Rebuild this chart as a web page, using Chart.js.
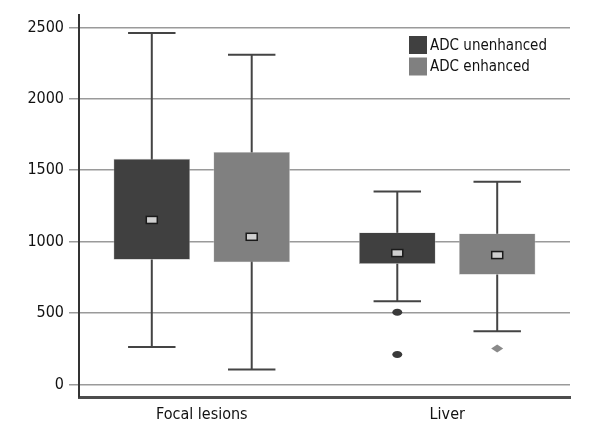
<!DOCTYPE html>
<html>
<head>
<meta charset="utf-8">
<script src="https://cdn.jsdelivr.net/npm/chart.js@4/dist/chart.umd.min.js"></script>
<style>
  body { margin: 0; background: #fff; }
  #wrap { width: 600px; height: 440px; position: relative; }
</style>
</head>
<body>
<div id="wrap"><canvas id="chart"></canvas></div>
<script>
// categories and series
const categories = ['Focal lesions', 'Liver'];
const seriesNames = ['ADC unenhanced', 'ADC enhanced'];

const unenhancedMin = [262, 583];
const unenhancedQ1 = [874, 844];
const unenhancedQ3 = [1580, 1064];
const unenhancedMax = [2461, 1352];
const unenhancedMean = [1152, 920];
const unenhancedOutliers = [[], [506, 209]];

const enhancedMin = [105, 372];
const enhancedQ1 = [855, 769];
const enhancedQ3 = [1628, 1057];
const enhancedMax = [2308, 1420];
const enhancedMean = [1034, 906];
const enhancedOutliers = [[], [251]];

const yTicks = [0, 500, 1000, 1500, 2000, 2500];

const FONT = '"DejaVu Sans Condensed", "Liberation Sans", sans-serif';

const stats = [
    { min: unenhancedMin, max: unenhancedMax, mean: unenhancedMean, out: unenhancedOutliers, outStyle: 'ellipse', outColor: '#3a3a3a' },
    { min: enhancedMin, max: enhancedMax, mean: enhancedMean, out: enhancedOutliers, outStyle: 'diamond', outColor: '#8a8a8a' }
];

// whiskers behind the boxes, means and outliers on top
const whiskerPlugin = {
    id: 'whiskers',
    beforeDatasetsDraw(chart) {
        const ctx = chart.ctx;
        const y = chart.scales.y;
        ctx.save();
        ctx.strokeStyle = '#444';
        ctx.lineWidth = 2;
        chart.data.datasets.forEach((ds, di) => {
            const meta = chart.getDatasetMeta(di);
            meta.data.forEach((bar, i) => {
                const s = stats[di];
                const x = bar.x;
                const half = bar.width * 0.31;
                const yMin = y.getPixelForValue(s.min[i]);
                const yMax = y.getPixelForValue(s.max[i]);
                ctx.beginPath();
                ctx.moveTo(x, yMin); ctx.lineTo(x, yMax);
                ctx.moveTo(x - half, yMin); ctx.lineTo(x + half, yMin);
                ctx.moveTo(x - half, yMax); ctx.lineTo(x + half, yMax);
                ctx.stroke();
            });
        });
        ctx.restore();
    },
    afterDatasetsDraw(chart) {
        const ctx = chart.ctx;
        const y = chart.scales.y;
        ctx.save();
        chart.data.datasets.forEach((ds, di) => {
            const meta = chart.getDatasetMeta(di);
            meta.data.forEach((bar, i) => {
                const s = stats[di];
                const x = bar.x;
                const ym = y.getPixelForValue(s.mean[i]);
                ctx.fillStyle = '#cfcfcf';
                ctx.strokeStyle = '#1a1a1a';
                ctx.lineWidth = 1.5;
                ctx.fillRect(x - 5.5, ym - 3.5, 11, 7);
                ctx.strokeRect(x - 5.5, ym - 3.5, 11, 7);
                ctx.fillStyle = s.outColor;
                s.out[i].forEach(v => {
                    const yo = y.getPixelForValue(v);
                    ctx.beginPath();
                    if (s.outStyle === 'ellipse') {
                        ctx.ellipse(x, yo, 5, 3.5, 0, 0, Math.PI * 2);
                    } else {
                        ctx.moveTo(x - 6, yo); ctx.lineTo(x, yo - 4);
                        ctx.lineTo(x + 6, yo); ctx.lineTo(x, yo + 4);
                        ctx.closePath();
                    }
                    ctx.fill();
                });
            });
        });
        ctx.restore();
    },
    afterDraw(chart) {
        // legend inside the plot, top right
        const ctx = chart.ctx;
        ctx.save();
        ctx.font = '15px ' + FONT;
        ctx.textBaseline = 'middle';
        chart.data.datasets.forEach((ds, di) => {
            const cy = 45 + di * 21.5;
            ctx.fillStyle = ds.backgroundColor;
            ctx.fillRect(409, cy - 9, 18, 18);
            ctx.fillStyle = '#111';
            ctx.fillText(ds.label, 430, cy + 1);
        });
        ctx.restore();
    }
};

new Chart(document.getElementById('chart'), {
    type: 'bar',
    data: {
        labels: categories,
        datasets: [
            {
                label: seriesNames[0],
                data: unenhancedQ1.map((q, i) => [q, unenhancedQ3[i]]),
                backgroundColor: '#404040',
                borderColor: '#bdbdbd',
                borderWidth: 0.6,
                borderSkipped: false
            },
            {
                label: seriesNames[1],
                data: enhancedQ1.map((q, i) => [q, enhancedQ3[i]]),
                backgroundColor: '#808080',
                borderColor: '#d0d0d0',
                borderWidth: 0.6,
                borderSkipped: false
            }
        ]
    },
    options: {
        responsive: true,
        maintainAspectRatio: false,
        animation: false,
        categoryPercentage: 0.814,
        barPercentage: 0.766,
        layout: { padding: { top: 11, right: 30, left: 0, bottom: 0 } },
        plugins: {
            legend: { display: false },
            tooltip: { enabled: false }
        },
        scales: {
            x: {
                grid: { display: false, drawTicks: false },
                border: { display: true, color: '#4d4d4d', width: 3 },
                ticks: { color: '#111', font: { family: FONT, size: 16 }, padding: 8 },
                afterFit(scale) { scale.height = 43; }
            },
            y: {
                min: -88,
                max: 2590,
                afterBuildTicks(scale) { scale.ticks = yTicks.map(v => ({ value: v })); },
                grid: { color: '#9a9a9a', lineWidth: 1.5, tickLength: 10 },
                border: { display: true, color: '#333', width: 2 },
                ticks: {
                    color: '#111',
                    font: { family: FONT, size: 16 },
                    padding: 5,
                    callback: v => String(v)
                },
                afterFit(scale) { scale.width = 79; }
            }
        }
    },
    plugins: [whiskerPlugin]
});
</script>
</body>
</html>
